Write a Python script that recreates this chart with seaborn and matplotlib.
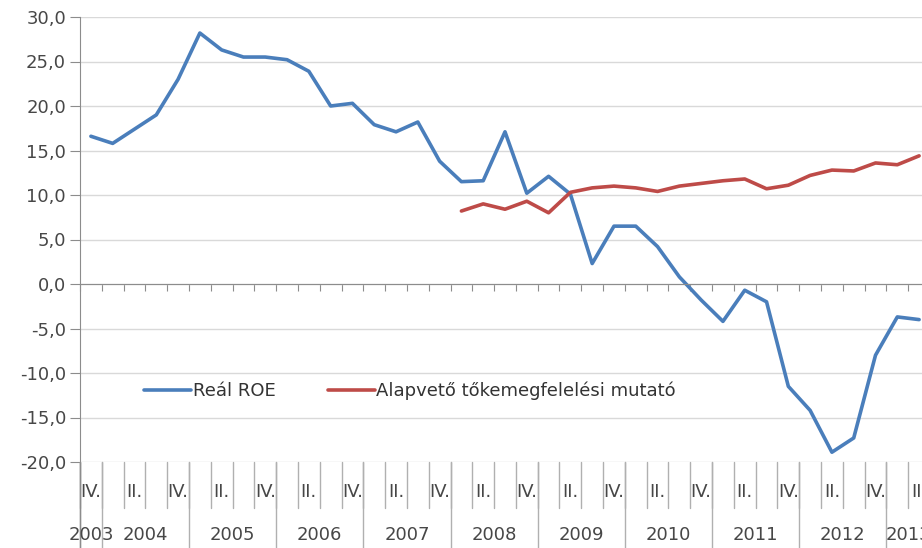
import numpy as np
import pandas as pd
import seaborn as sns
import matplotlib
matplotlib.use("Agg")
import matplotlib.pyplot as plt
from matplotlib.ticker import FuncFormatter
from matplotlib.transforms import blended_transform_factory

# Quarterly data, 2003 IV. - 2013 II.
quarters = ["IV.", "I.", "II.", "III.", "IV.", "I.", "II.", "III.", "IV.", "I.",
            "II.", "III.", "IV.", "I.", "II.", "III.", "IV.", "I.", "II.", "III.",
            "IV.", "I.", "II.", "III.", "IV.", "I.", "II.", "III.", "IV.", "I.",
            "II.", "III.", "IV.", "I.", "II.", "III.", "IV.", "I.", "II."]
years = ["2003", "2004", "2005", "2006", "2007", "2008", "2009", "2010", "2011", "2012", "2013"]
year_of_quarter = [2003] + [y for y in range(2004, 2013) for _ in range(4)] + [2013, 2013]

real_roe = [16.6, 15.8, 17.4, 19.0, 23.0, 28.2, 26.3, 25.5, 25.5, 25.2,
            23.9, 20.0, 20.3, 17.9, 17.1, 18.2, 13.8, 11.5, 11.6, 17.1,
            10.2, 12.1, 10.1, 2.3, 6.5, 6.5, 4.2, 0.8, -1.8, -4.2,
            -0.7, -2.0, -11.5, -14.2, -18.9, -17.3, -8.0, -3.7, -4.0]
tier1 = [None] * 17 + [8.2, 9.0, 8.4, 9.3, 8.0, 10.3, 10.8, 11.0, 10.8,
                       10.4, 11.0, 11.3, 11.6, 11.8, 10.7, 11.1, 12.2, 12.8, 12.7,
                       13.6, 13.4, 14.4]

label_roe = "Reál ROE"
label_t1 = "Alapvető tőkemegfelelési mutató"

idx = np.arange(len(quarters))
df = pd.concat([
    pd.DataFrame({"i": idx, "value": real_roe, "series": label_roe}),
    pd.DataFrame({"i": idx, "value": tier1, "series": label_t1}),
]).dropna()

sns.set_style("white")
plt.rcParams["font.family"] = ["DejaVu Sans"]
txt_color = "#474747"
grid_color = "#d9d9d9"
axis_color = "#8c8c8c"
sep_color = "#b0b0b0"

fig = plt.figure(figsize=(9.22, 5.48), dpi=100)
ax = fig.add_axes([80 / 922, 1 - 462 / 548, 850 / 922, 445 / 548])

sns.lineplot(data=df, x="i", y="value", hue="series",
             palette={label_roe: "#4a7ebb", label_t1: "#be4b48"},
             linewidth=2.6, ax=ax, legend=True)

ax.set_xlim(-0.5, len(quarters) - 0.5)
ax.set_ylim(-20, 30)
ax.set_yticks(np.arange(-20, 31, 5))
ax.yaxis.set_major_formatter(FuncFormatter(lambda v, p: f"{v:.1f}".replace(".", ",")))
ax.tick_params(axis="y", direction="out", length=7, color=axis_color,
               labelsize=13, labelcolor=txt_color, pad=3, left=True)
ax.grid(axis="y", color=grid_color, linewidth=1)
ax.set_axisbelow(True)
ax.set_xlabel("")
ax.set_ylabel("")

for s in ["top", "right"]:
    ax.spines[s].set_visible(False)
ax.spines["left"].set_color(axis_color)
ax.spines["bottom"].set_position(("data", 0))
ax.spines["bottom"].set_color(axis_color)
ax.set_xticks(np.arange(len(quarters) + 1) - 0.5)
ax.set_xticklabels([])
ax.tick_params(axis="x", direction="out", length=5, color=axis_color, bottom=True)

# multi-level category labels below the plot
tr = blended_transform_factory(ax.transData, ax.transAxes)
for i, q in enumerate(quarters):
    if i % 2 == 0:
        ax.text(i, -0.068, q, transform=tr, ha="center", va="center",
                fontsize=13, color=txt_color, clip_on=False)
for b in range(len(quarters) + 1):
    ax.plot([b - 0.5, b - 0.5], [0, -0.103], transform=tr, color=sep_color,
            lw=1, clip_on=False)

yq = np.array(year_of_quarter)
for y in years:
    pos = idx[yq == int(y)]
    ax.text(pos.mean(), -0.165, y, transform=tr, ha="center", va="center",
            fontsize=13, color=txt_color, clip_on=False)
    ax.plot([pos.min() - 0.5] * 2, [0, -0.25], transform=tr, color=sep_color,
            lw=1, clip_on=False)
ax.plot([-0.5, -0.5], [0, -0.25], transform=tr, color=axis_color, lw=1, clip_on=False)

leg = ax.legend(loc="center left", bbox_to_anchor=(0.056, 0.16), ncol=2,
                frameon=False, fontsize=13, handlelength=2.6, handletextpad=0.1,
                columnspacing=2.9, labelcolor="#333333")
for line in leg.get_lines():
    line.set_linewidth(2.6)

fig.savefig("out.png", dpi=100)
